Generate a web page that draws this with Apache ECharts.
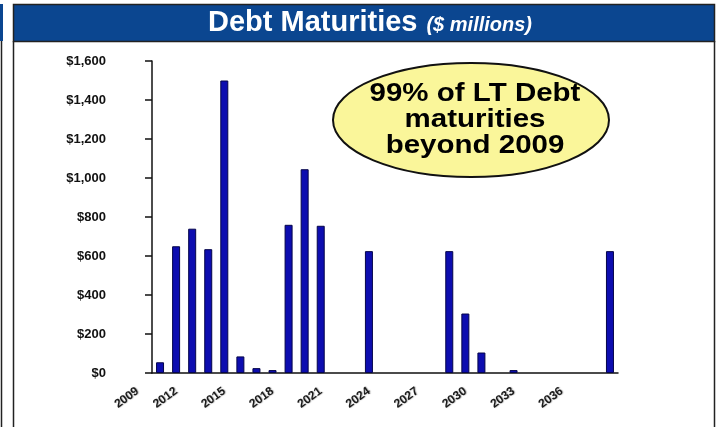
<!DOCTYPE html>
<html>
<head>
<meta charset="utf-8">
<script src="https://cdn.jsdelivr.net/npm/echarts@6/dist/echarts.min.js"></script>
<style>
  html, body { margin: 0; padding: 0; background: #ffffff; }
  #chart { width: 720px; height: 427px; }
</style>
</head>
<body>
<div id="chart"></div>
<script>
// Maturity years on the category axis
const years = ['2011', '2012', '2013', '2014', '2015', '2016', '2017', '2018', '2019', '2020',
               '2021', '2022', '2023', '2024', '2025', '2026', '2027', '2028', '2029', '2030',
               '2031', '2032', '2033', '2034', '2035', '2036', '2037', '2038', '2039'];
// Debt maturing each year, $ millions
const maturities = [55, 650, 740, 635, 1500, 85, 25, 15, 760, 1045,
                    755, 0, 0, 625, 0, 0, 0, 0, 625, 305,
                    105, 0, 15, 0, 0, 0, 0, 0, 625];
// Value axis ticks
const yMin = 0, yMax = 1600, yStep = 200;
// Year labels: every third year from 2012 to 2036, plus a leading one ahead of the first bar
const labelledYears = ['2012', '2015', '2018', '2021', '2024', '2027', '2030', '2033', '2036'];
const leadingYearLabel = '2009';
const calloutLines = ['99% of LT Debt', 'maturities', 'beyond 2009'];

const FONT = '"Liberation Sans", Arial, Helvetica, sans-serif';
const chart = echarts.init(document.getElementById('chart'), null, { renderer: 'canvas' });

const X_ROT = 36;
const X_MARGIN = 17;
const xLabelStyle = {
  fontFamily: FONT, fontWeight: 'bold', fontSize: 12, color: '#1a1a1a',
  textShadowColor: 'rgba(0,0,0,0.3)', textShadowBlur: 1, textShadowOffsetX: 1
};

chart.setOption({
  animation: false,
  backgroundColor: '#ffffff',
  grid: { left: 152, right: 102, top: 61, bottom: 54, containLabel: false },
  xAxis: {
    type: 'category',
    data: years,
    boundaryGap: true,
    axisLine: { lineStyle: { color: '#111', width: 1.5 } },
    axisTick: { interval: 0, length: 5, lineStyle: { color: '#111', width: 1.5 } },
    axisLabel: Object.assign({
      interval: (i, v) => labelledYears.indexOf(v) >= 0,
      rotate: X_ROT,
      margin: X_MARGIN
    }, xLabelStyle),
    splitLine: { show: false }
  },
  yAxis: {
    type: 'value',
    min: yMin, max: yMax, interval: yStep,
    axisLine: { show: true, lineStyle: { color: '#111', width: 1.5 } },
    axisTick: { show: true, length: 7, lineStyle: { color: '#111', width: 1.5 } },
    axisLabel: {
      margin: 46, fontFamily: FONT, fontWeight: 'bold', fontSize: 13, color: '#111',
      formatter: (v) => '$' + v.toLocaleString('en-US')
    },
    splitLine: { show: false }
  },
  series: [{
    type: 'bar',
    // years with nothing maturing get no bar outline
    data: maturities.map((v) => (v === 0 ? null : v)),
    barWidth: 8,
    itemStyle: { color: '#0d0db0', borderColor: '#05054a', borderWidth: 1 }
  }]
});

// Pixel positions of the first categories, used to seat the leading year label
const c0 = chart.convertToPixel({ xAxisIndex: 0 }, years[0]);
const c1 = chart.convertToPixel({ xAxisIndex: 0 }, years[1]);
const axisY = chart.convertToPixel({ yAxisIndex: 0 }, 0);
const catW = c1 - c0;

const callout = { cx: 471, cy: 120, rx: 138, ry: 57 };

chart.setOption({
  graphic: [
    // neighbouring panel edge on the far left
    { type: 'rect', shape: { x: 0, y: 4, width: 3, height: 37 }, style: { fill: '#0b4690' }, z: 10 },
    { type: 'line', shape: { x1: 1.5, y1: 41, x2: 1.5, y2: 427 }, style: { stroke: '#222', lineWidth: 1.5 }, z: 10 },
    // panel frame
    { type: 'line', shape: { x1: 13.5, y1: 41, x2: 13.5, y2: 427 }, style: { stroke: '#222', lineWidth: 1.5 }, z: 10 },
    { type: 'line', shape: { x1: 714.5, y1: 41, x2: 714.5, y2: 427 }, style: { stroke: '#222', lineWidth: 1.5 }, z: 10 },
    // header band
    { type: 'rect', shape: { x: 13.5, y: 4.5, width: 701, height: 37 },
      style: { fill: '#0b4690', stroke: '#222', lineWidth: 1.5 }, z: 10 },
    { type: 'text', x: 370, y: 23, z: 11,
      style: {
        text: '{a|Debt Maturities}{b|($ millions)}',
        textAlign: 'center', textVerticalAlign: 'middle',
        rich: {
          a: { fontFamily: FONT, fontWeight: 'bold', fontSize: 29, fill: '#ffffff' },
          b: { fontFamily: FONT, fontWeight: 'bold', fontStyle: 'italic', fontSize: 20, fill: '#ffffff', padding: [4, 0, 0, 9] }
        }
      } },
    // callout
    { type: 'ellipse', shape: callout, style: { fill: '#faf69a', stroke: '#111', lineWidth: 2 }, z: 10 },
    ...calloutLines.map((t, i) => ({
      type: 'text', x: callout.cx + 4, y: callout.cy - 26 + i * 26, scaleX: 1.18, z: 11,
      style: { text: t, textAlign: 'center', textVerticalAlign: 'middle',
               fontFamily: FONT, fontWeight: 'bold', fontSize: 25, fill: '#000' }
    })),
    // leading year label
    { type: 'text', x: c0 - catW * 1.4, y: axisY + X_MARGIN, rotation: X_ROT * Math.PI / 180, z: 11,
      style: { text: leadingYearLabel, textAlign: 'right', textVerticalAlign: 'middle',
        fontFamily: FONT, fontWeight: 'bold', fontSize: 12, fill: '#1a1a1a',
        textShadowColor: 'rgba(0,0,0,0.3)', textShadowBlur: 1, textShadowOffsetX: 1 } }
  ]
});
</script>
</body>
</html>
